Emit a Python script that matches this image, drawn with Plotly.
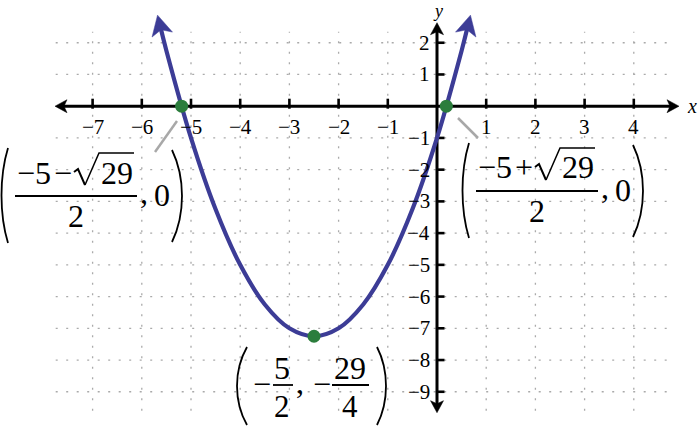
import plotly.graph_objects as go

# ---------------- data ----------------
curve_x = [-5.63, -5.5, -5.0, -4.5, -4.0, -3.5, -3.0, -2.5, -2.0, -1.5, -1.0, -0.5, 0.0, 0.5, 0.63]
curve_y = [2.55, 1.75, -1.0, -3.25, -5.0, -6.25, -7.0, -7.25, -7.0, -6.25, -5.0, -3.25, -1.0, 1.75, 2.55]
arrow_tip_x = [-5.68, 0.68]
arrow_tip_y = [2.87, 2.87]
point_x = [-5.19, 0.19, -2.5]
point_y = [0.0, 0.0, -7.25]
x_ticks = [-7, -6, -5, -4, -3, -2, -1, 1, 2, 3, 4]
x_tick_labels = ["\u22127", "\u22126", "\u22125", "\u22124", "\u22123", "\u22122", "\u22121", "1", "2", "3", "4"]
y_ticks = [2, 1, -1, -2, -3, -4, -5, -6, -7, -8, -9]
y_tick_labels = ["2", "1", "\u22121", "\u22122", "\u22123", "\u22124", "\u22125", "\u22126", "\u22127", "\u22128", "\u22129"]
grid_x = [-7, -6, -5, -4, -3, -2, -1, 1, 2, 3, 4]
grid_y = [2, 1, -1, -2, -3, -4, -5, -6, -7, -8, -9]
grid_x_extent = (-7.75, 4.75)
grid_y_extent = (-9.6, 2.35)

# ---------------- pixel helpers ----------------
W, H = 699, 426
OX, OY = 437.0, 106.2
UX, UY = 49.2, 31.73


def dx(px):
    return (px - OX) / UX


def dy(py):
    return (OY - py) / UY


def to_px(x, y):
    return OX + UX * x, OY - UY * y


FONT = "Liberation Serif"
CURVE = "#3c3c96"
GREEN = "#2b7d3c"
GRAY = "#a8a8a8"

shapes = []
annotations = []


def line_px(x0, y0, x1, y1, color="black", width=2.0, layer="above"):
    shapes.append(dict(type="line", xref="x", yref="y", x0=dx(x0), y0=dy(y0), x1=dx(x1), y1=dy(y1),
                       line=dict(color=color, width=width), layer=layer))


def path_px(pts, color="black", width=1.8, closed=False, fill=None):
    p = "M " + " L ".join(f"{dx(a):.5f},{dy(b):.5f}" for a, b in pts)
    if closed:
        p += " Z"
    d = dict(type="path", xref="x", yref="y", path=p, layer="above",
             line=dict(color=color, width=width))
    if fill:
        d["fillcolor"] = fill
    shapes.append(d)


def head(tip, d, L, hw, notch, color):
    tx, ty = tip
    ux, uy = d
    n = (ux * ux + uy * uy) ** 0.5
    ux, uy = ux / n, uy / n
    qx, qy = -uy, ux
    b1 = (tx - L * ux + hw * qx, ty - L * uy + hw * qy)
    nn = (tx - (L - notch) * ux, ty - (L - notch) * uy)
    b2 = (tx - L * ux - hw * qx, ty - L * uy - hw * qy)
    path_px([(tx, ty), b1, nn, b2], color=color, width=0.5, closed=True, fill=color)


def paren(xt, yt, xm, yb, width=1.8):
    c = (xm - 0.25 * xt) / 0.75
    h = yb - yt
    p = (f"M {dx(xt):.5f},{dy(yt):.5f} C {dx(c):.5f},{dy(yt + 0.3 * h):.5f} "
         f"{dx(c):.5f},{dy(yb - 0.3 * h):.5f} {dx(xt):.5f},{dy(yb):.5f}")
    shapes.append(dict(type="path", xref="x", yref="y", path=p, layer="above",
                       line=dict(color="black", width=width)))


def txt(s, px, py, size=32, xanchor="center"):
    annotations.append(dict(x=px / W, y=1 - py / H, xref="paper", yref="paper", text=s,
                            showarrow=False, xanchor=xanchor, yanchor="middle",
                            font=dict(family=FONT, size=size, color="black")))


# ---------------- grid ----------------
for gx in grid_x:
    shapes.append(dict(type="line", xref="x", yref="y", x0=gx, x1=gx, y0=grid_y_extent[0], y1=grid_y_extent[1],
                       line=dict(color="#aaaaaa", width=1.3, dash="2px,8.5px"), layer="below"))
for gy in grid_y:
    shapes.append(dict(type="line", xref="x", yref="y", y0=gy, y1=gy, x0=grid_x_extent[0], x1=grid_x_extent[1],
                       line=dict(color="#aaaaaa", width=1.3, dash="2px,8.5px"), layer="below"))

# ---------------- axes ----------------
AXL, AXR, AYT, AYB = 55, 679, 22.7, 412.7
line_px(AXL + 8, OY, AXR - 8, OY, width=3, layer="below")
line_px(OX, AYT + 8, OX, AYB - 8, width=3, layer="below")
head((AXL, OY), (-1, 0), 12, 6.5, 3, "black")
head((AXR, OY), (1, 0), 12, 6.5, 3, "black")
head((OX, AYT), (0, -1), 12, 6.5, 3, "black")
head((OX, AYB), (0, 1), 12, 6.5, 3, "black")

for t, lab in zip(x_ticks, x_tick_labels):
    px, _ = to_px(t, 0)
    shapes.append(dict(type="line", xref="x", yref="y", x0=t, x1=t, y0=dy(OY - 7.5), y1=dy(OY + 2.5),
                       line=dict(color="black", width=2.6), layer="below"))
    txt(lab, px, 127.5, size=21)
for t, lab in zip(y_ticks, y_tick_labels):
    _, py = to_px(0, t)
    shapes.append(dict(type="line", xref="x", yref="y", y0=t, y1=t, x0=dx(OX - 1), x1=dx(OX + 7.5),
                       line=dict(color="black", width=2.6), layer="below"))
    txt(lab, 432, py, size=21, xanchor="right")

txt("<i>x</i>", 692, 106, size=20)
txt("<i>y</i>", 438, 11, size=18)

# ---------------- curve ----------------
fig = go.Figure()
fig.add_trace(go.Scatter(x=curve_x, y=curve_y, mode="lines", line=dict(color=CURVE, width=4.2, shape="spline"),
                         hoverinfo="skip", showlegend=False))
ends = [(curve_x[0], curve_y[0]), (curve_x[-1], curve_y[-1])]
for (ex, ey), tx, ty in zip(ends, arrow_tip_x, arrow_tip_y):
    tp = to_px(tx, ty)
    ep = to_px(ex, ey)
    head(tp, (tp[0] - ep[0], tp[1] - ep[1]), 20, 10.5, 5, CURVE)

fig.add_trace(go.Scatter(x=point_x, y=point_y, mode="markers", marker=dict(color=GREEN, size=13),
                         hoverinfo="skip", showlegend=False))

# ---------------- leader lines ----------------
line_px(177, 121, 155, 152, color=GRAY, width=2.5)
line_px(458, 118, 478, 138, color=GRAY, width=2.5)


# ---------------- fraction labels for the roots ----------------
def root_label(ox, oy, op):
    paren(8 + ox, 148 + oy, 1.5 + ox, 243 + oy)
    paren(172 + ox, 150 + oy, 182 + ox, 242 + oy)
    txt("\u22125", 33.5 + ox, 172.5 + oy)
    txt(op, 63 + ox, 172.5 + oy)
    # radical sign
    path_px([(74 + ox, 172 + oy), (78 + ox, 169 + oy), (85 + ox, 185 + oy)], width=2.0)
    path_px([(85 + ox, 185 + oy), (99 + ox, 153 + oy), (134 + ox, 153 + oy)], width=1.5)
    txt("29", 116.5 + ox, 172.5 + oy)
    line_px(15 + ox, 196 + oy, 137 + ox, 196 + oy, width=1.8)
    txt("2", 76 + ox, 216 + oy)
    txt(",", 144 + ox, 192 + oy)
    txt("0", 161.5 + ox, 195 + oy)


root_label(0, 0, "\u2212")
root_label(461, -5, "+")

# ---------------- vertex label ----------------
paren(247, 347, 237, 425)
paren(377, 347, 386, 425)
txt("\u2212", 261.5, 384)
txt("5", 282, 368)
line_px(273, 385, 293, 385, width=1.8)
txt("2", 282, 406, size=31)
txt(",", 300, 382)
txt("\u2212", 322, 384)
txt("29", 350.5, 368)
line_px(332, 385, 369, 385, width=1.8)
txt("4", 350.5, 406, size=31)

fig.update_layout(
    width=W, height=H, margin=dict(l=0, r=0, t=0, b=0),
    paper_bgcolor="white", plot_bgcolor="white",
    xaxis=dict(range=[dx(0), dx(W)], visible=False, fixedrange=True),
    yaxis=dict(range=[dy(H), dy(0)], visible=False, fixedrange=True),
    shapes=shapes, annotations=annotations, showlegend=False,
)
fig.write_html("out.html", post_script="document.body.style.margin='0';",
               config={"displayModeBar": False})
